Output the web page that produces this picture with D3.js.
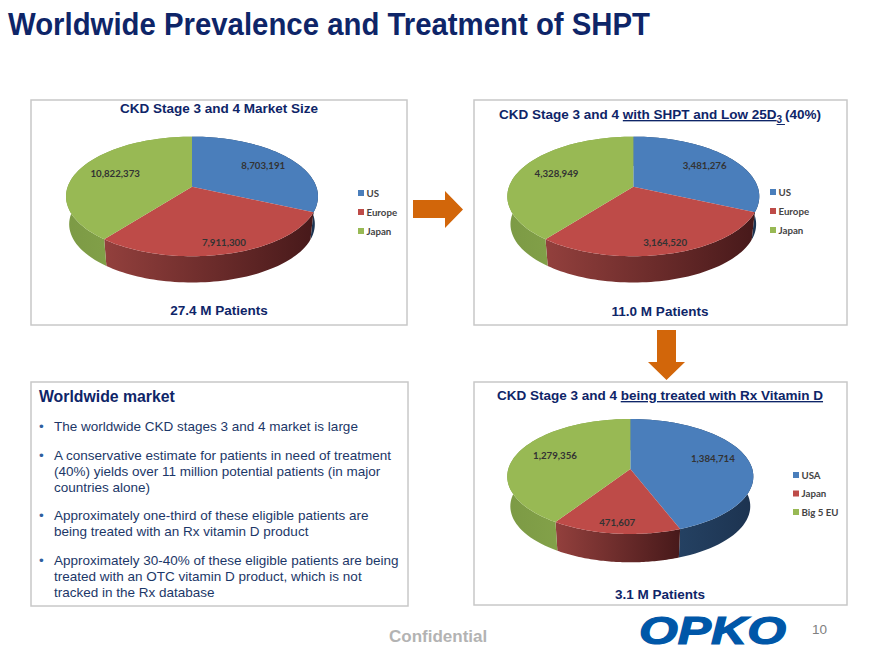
<!DOCTYPE html>
<html>
<head>
<meta charset="utf-8">
<script src="https://cdn.jsdelivr.net/npm/d3@7"></script>
<style>
  html, body { margin: 0; padding: 0; background: #fff; }
  text { font-family: "Liberation Sans", Arial, sans-serif; }
</style>
</head>
<body>
<svg id="chart" width="880" height="660"></svg>
<script>
const marketCategories = ["US", "Europe", "Japan"];
const marketValues = [8703191, 7911300, 10822373];

const shptCategories = ["US", "Europe", "Japan"];
const shptValues = [3481276, 3164520, 4328949];

const treatedCategories = ["USA", "Japan", "Big 5 EU"];
const treatedValues = [1384714, 471607, 1279356];

const bullets = [
  ["The worldwide CKD stages 3 and 4 market is large"],
  ["A conservative estimate for patients in need of treatment", "(40%) yields over 11 million potential patients (in major", "countries alone)"],
  ["Approximately one-third of these eligible patients are", "being treated with an Rx vitamin D product"],
  ["Approximately 30-40% of these eligible patients are being", "treated with an OTC vitamin D product, which is not", "tracked in the Rx database"]
];

const navy = "#0e2568";
const topColors = ["#4a7ebb", "#be4b48", "#98b954"];
const wallColors = [
  ["#2a4a6e", "#1c3350"],
  ["#93403d", "#47191a"],
  ["#7c9a45", "#8cab4e"]
];

const svg = d3.select("#chart");
const defs = svg.append("defs");

function panel(x, y, w, h) {
  svg.append("rect")
    .attr("x", x).attr("y", y).attr("width", w).attr("height", h)
    .attr("fill", "#fff")
    .attr("stroke", "#c8c8c8")
    .attr("stroke-width", 1.5);
}

// 3d pie, perspective is just a projective map of the unit circle
function drawPie(id, values, opts) {
  const slices = d3.pie().sort(null)(values);

  const project = (angle, r, cy, scale) => {
    const u = Math.sin(angle) * r;
    const v = -Math.cos(angle) * r;
    const w = 1 - opts.k * v;
    return [opts.cx + scale * opts.rx * u / w, cy + scale * opts.ry * v / w];
  };

  const rim = (s, cy, scale) =>
    d3.range(0, 61).map((i) => {
      const a = s.startAngle + (s.endAngle - s.startAngle) * i / 60;
      return project(a, 1, cy, scale);
    });

  const line = d3.line();

  slices.forEach((s, i) => {
    const topRim = rim(s, opts.cy, 1);
    const bottomRim = rim(s, opts.cy + opts.depth, opts.bottomScale);
    const gradId = `${id}-wall-${i}`;
    const xs = topRim.map((p) => p[0]);
    const grad = defs.append("linearGradient")
      .attr("id", gradId)
      .attr("gradientUnits", "userSpaceOnUse")
      .attr("x1", d3.min(xs)).attr("x2", d3.max(xs))
      .attr("y1", 0).attr("y2", 0);
    grad.append("stop").attr("offset", "0%").attr("stop-color", wallColors[i][0]);
    grad.append("stop").attr("offset", "100%").attr("stop-color", wallColors[i][1]);

    svg.append("path")
      .attr("d", line(topRim.concat(bottomRim.reverse())) + "Z")
      .attr("fill", `url(#${gradId})`);
  });

  slices.forEach((s, i) => {
    const center = project(0, 0, opts.cy, 1);
    svg.append("path")
      .attr("d", line([center].concat(rim(s, opts.cy, 1))) + "Z")
      .attr("fill", topColors[i]);
  });

  const fmt = d3.format(",");
  slices.forEach((s, i) => {
    const mid = (s.startAngle + s.endAngle) / 2;
    const p = project(mid, opts.labelR[i], opts.cy, 1);
    svg.append("text")
      .attr("x", p[0] + opts.labelDx).attr("y", p[1] + opts.labelDy)
      .attr("text-anchor", "middle")
      .attr("font-size", 9.7)
      .attr("font-weight", "bold")
      .style("font-family", "Lato, sans-serif")
      .attr("fill", "#333")
      .text(fmt(s.value));
  });

  opts.categories.forEach((c, i) => {
    const y = opts.legendY + i * opts.legendStep;
    svg.append("rect")
      .attr("x", opts.legendX).attr("y", y - 3)
      .attr("width", 6).attr("height", 6)
      .attr("fill", topColors[i]);
    svg.append("text")
      .attr("x", opts.legendX + 8.5).attr("y", y + 3.5)
      .attr("font-size", 9.7)
      .attr("font-weight", "bold")
      .style("font-family", "Lato, sans-serif")
      .attr("fill", "#444")
      .text(c);
  });
}

function heading(x, y, parts) {
  const t = svg.append("text")
    .attr("x", x).attr("y", y)
    .attr("text-anchor", "middle")
    .attr("font-size", 13.5)
    .attr("font-weight", "bold")
    .attr("fill", navy);
  parts.forEach((p) => {
    const s = t.append("tspan").text(p.text);
    if (p.underline) s.attr("text-decoration", "underline");
    if (p.sub) s.attr("font-size", 10).attr("dy", 4);
    if (p.after) s.attr("dy", -4);
  });
}

function caption(x, y, str) {
  svg.append("text")
    .attr("x", x).attr("y", y)
    .attr("text-anchor", "middle")
    .attr("font-size", 13.5)
    .attr("font-weight", "bold")
    .attr("fill", navy)
    .text(str);
}

svg.append("text")
  .attr("x", 8).attr("y", 34.5)
  .attr("font-size", 31)
  .attr("font-weight", "bold")
  .attr("textLength", 642)
  .attr("lengthAdjust", "spacingAndGlyphs")
  .attr("fill", navy)
  .text("Worldwide Prevalence and Treatment of SHPT");

panel(31, 100, 376, 225);
panel(474, 100, 373, 225);
panel(31, 382, 377, 224);
panel(474, 382, 373, 223);

heading(219, 113, [{ text: "CKD Stage 3 and 4 Market Size" }]);
heading(660, 119, [
  { text: "CKD Stage 3 and 4 " },
  { text: "with SHPT and Low 25D", underline: true },
  { text: "3 ", underline: true, sub: true },
  { text: "(40%)", after: true }
]);
heading(660, 400, [
  { text: "CKD Stage 3 and 4 " },
  { text: "being treated with Rx Vitamin D", underline: true }
]);

drawPie("market", marketValues, {
  categories: marketCategories,
  cx: 192, cy: 186.7, rx: 124.3, ry: 58.2, k: 0.163, depth: 28, bottomScale: 0.975,
  labelR: [0.7, 0.85, 0.7], labelDx: 2.5, labelDy: 3.5,
  legendX: 358, legendY: 193, legendStep: 19
});
drawPie("shpt", shptValues, {
  categories: shptCategories,
  cx: 633.3, cy: 186.7, rx: 124.3, ry: 58.2, k: 0.163, depth: 28, bottomScale: 0.975,
  labelR: [0.7, 0.85, 0.7], labelDx: 2.5, labelDy: 3.5,
  legendX: 770, legendY: 192, legendStep: 19
});
drawPie("treated", treatedValues, {
  categories: treatedCategories,
  cx: 630.3, cy: 469, rx: 122, ry: 56.5, k: 0.13, depth: 30, bottomScale: 0.975,
  labelR: [0.7, 0.9, 0.66], labelDx: 0, labelDy: 0,
  legendX: 793, legendY: 475, legendStep: 18.5
});

caption(219, 315, "27.4 M Patients");
caption(660, 316, "11.0 M Patients");
caption(660, 599, "3.1 M Patients");

// orange arrows
const orange = "#d2660a";
svg.append("path")
  .attr("d", "M413,200H445V191L463,209.5L445,228V218H413Z")
  .attr("fill", orange);
svg.append("path")
  .attr("d", "M657,330H676V362H685L666.5,380L648,362H657Z")
  .attr("fill", orange);

// text box
svg.append("text")
  .attr("x", 39).attr("y", 402)
  .attr("font-size", 15.8)
  .attr("font-weight", "bold")
  .attr("fill", navy)
  .text("Worldwide market");

let by = 431;
bullets.forEach((lines) => {
  svg.append("text")
    .attr("x", 39).attr("y", by)
    .attr("font-size", 13.5)
    .attr("fill", "#2f5f9f")
    .text("•");
  lines.forEach((l, i) => {
    svg.append("text")
      .attr("x", 54).attr("y", by + i * 16)
      .attr("font-size", 13.5)
      .attr("fill", "#1c3768")
      .text(l);
  });
  by += (lines.length - 1) * 16 + 28.7;
});

// footer
svg.append("text")
  .attr("x", 389).attr("y", 642)
  .attr("font-size", 17)
  .attr("font-weight", "bold")
  .attr("fill", "#b3b3b3")
  .text("Confidential");

svg.append("text")
  .attr("x", 639).attr("y", 643.5)
  .attr("font-size", 38)
  .attr("font-weight", "bold")
  .attr("font-style", "italic")
  .attr("textLength", 147)
  .attr("lengthAdjust", "spacingAndGlyphs")
  .attr("fill", "#0057a8")
  .attr("stroke", "#0057a8")
  .attr("stroke-width", 1.2)
  .text("OPKO");

svg.append("text")
  .attr("x", 812).attr("y", 634)
  .attr("font-size", 13.5)
  .attr("fill", "#808080")
  .text("10");
</script>
</body>
</html>
